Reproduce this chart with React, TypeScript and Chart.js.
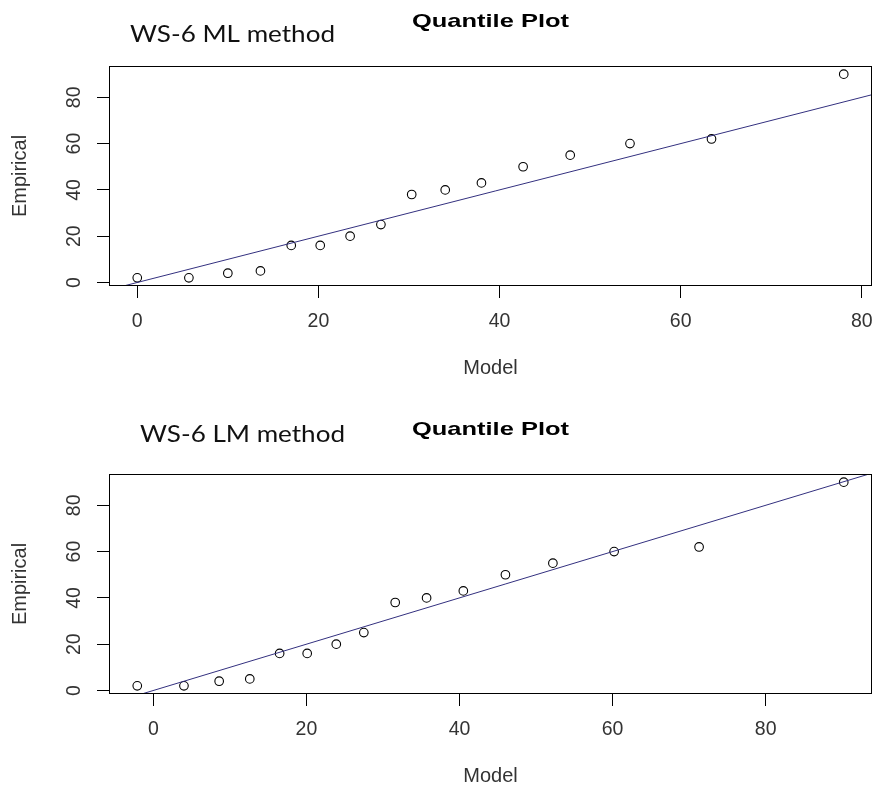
import React, { useEffect, useRef } from "react";
import { Chart, registerables } from "chart.js";

Chart.register(...registerables);

// ---------- data ----------
const EMPIRICAL = [2, 2, 4, 5, 16, 16, 20, 25, 38, 40, 43, 50, 55, 60, 62, 90];
const ML_MODEL = [0, 5.7, 10.0, 13.6, 17.0, 20.2, 23.5, 26.9, 30.3, 34.0, 38.0, 42.6, 47.8, 54.4, 63.4, 78.0];
const LM_MODEL = [-2.1, 4.0, 8.6, 12.6, 16.5, 20.1, 23.9, 27.5, 31.6, 35.7, 40.5, 46.0, 52.2, 60.2, 71.3, 90.2];
const X_TICKS = [0, 20, 40, 60, 80];
const Y_TICKS = [0, 20, 40, 60, 80];
const LINE_INTERCEPT = 0;
const LINE_SLOPE = 1;
const TITLE = "Quantile Plot";
const X_LABEL = "Model";
const Y_LABEL = "Empirical";
const ML_LABEL = "WS-6 ML method";
const LM_LABEL = "WS-6 LM method";

// R-style axis range: data range extended by 4% on each side
function rRange(values: number[]): [number, number] {
  const mn = Math.min(...values);
  const mx = Math.max(...values);
  const d = (mx - mn) * 0.04;
  return [mn - d, mx + d];
}

const W = 879;
const H = 395;
const RFONT = "'Liberation Sans', Arial, sans-serif";

function drawStretched(
  ctx: CanvasRenderingContext2D,
  text: string,
  font: string,
  cx: number,
  baseline: number,
  targetWidth: number,
  color: string
) {
  ctx.save();
  ctx.font = font;
  const w = ctx.measureText(text).width;
  const s = targetWidth / w;
  ctx.translate(cx, baseline);
  ctx.scale(s, 1);
  ctx.fillStyle = color;
  ctx.textAlign = "center";
  ctx.textBaseline = "alphabetic";
  ctx.fillText(text, 0, 0);
  ctx.restore();
}

type PanelProps = {
  model: number[];
  label: string;
  top: number;
  labelX: number;
  labelBaseline: number;
  titleBaseline: number;
};

function QuantilePanel({ model, label, top, labelX, labelBaseline, titleBaseline }: PanelProps) {
  const ref = useRef<HTMLCanvasElement | null>(null);

  useEffect(() => {
    if (!ref.current) return;
    const [xmin, xmax] = rRange(model);
    const [ymin, ymax] = rRange(EMPIRICAL);
    const points = model.map((x, i) => ({ x, y: EMPIRICAL[i] }));
    const linePts = [xmin, xmax].map((x) => ({ x, y: LINE_INTERCEPT + LINE_SLOPE * x }));

    const overlay = {
      id: "overlay",
      afterDraw(chart: any) {
        const { ctx, chartArea: a } = chart;
        ctx.save();
        ctx.strokeStyle = "#000";
        ctx.lineWidth = 1;
        const l = Math.round(a.left) + 0.5;
        const t = Math.round(a.top) + 0.5;
        const r = Math.round(a.right) - 0.5;
        const b = Math.round(a.bottom) - 0.5;
        ctx.strokeRect(l, t, r - l, b - t);
        ctx.restore();
        drawStretched(ctx, TITLE, `bold 19px ${RFONT}`, (a.left + a.right) / 2, titleBaseline, 157, "#000");
        drawStretched(ctx, label, "23px Lato, 'Open Sans', sans-serif", labelX, labelBaseline, 205, "#111");
      },
    };

    const tickFont = { family: RFONT, size: 19.5 };
    const titleFont = { family: RFONT, size: 20 };

    const chart = new Chart(ref.current, {
      type: "scatter",
      data: {
        datasets: [
          {
            type: "line",
            data: linePts,
            borderColor: "#33307f",
            borderWidth: 1,
            pointRadius: 0,
            pointHoverRadius: 0,
            fill: false,
            tension: 0,
          } as any,
          {
            type: "scatter",
            data: points,
            pointRadius: 4.3,
            pointHoverRadius: 4.3,
            pointBorderColor: "#000",
            pointBackgroundColor: "rgba(0,0,0,0)",
            pointBorderWidth: 1.1,
          } as any,
        ],
      },
      options: {
        animation: false,
        responsive: false,
        events: [],
        layout: { padding: { top: 66, right: 7, left: 0, bottom: 0 } },
        plugins: {
          legend: { display: false },
          tooltip: { enabled: false },
          title: { display: false },
        },
        scales: {
          x: {
            type: "linear",
            min: xmin,
            max: xmax,
            afterBuildTicks: (s: any) => {
              s.ticks = X_TICKS.map((v) => ({ value: v }));
            },
            afterFit: (s: any) => {
              s.height = 109;
              s.paddingLeft = 0;
              s.paddingRight = 0;
            },
            grid: { display: true, drawOnChartArea: false, drawTicks: true, tickLength: 12, color: "#000", lineWidth: 1 },
            border: { display: false },
            ticks: { font: tickFont, color: "#333", padding: 12, minRotation: 0, maxRotation: 0, autoSkip: false },
            title: { display: true, text: X_LABEL, font: titleFont, color: "#333", padding: { top: 0, bottom: 15 } },
          },
          y: {
            type: "linear",
            min: ymin,
            max: ymax,
            afterBuildTicks: (s: any) => {
              s.ticks = Y_TICKS.map((v) => ({ value: v }));
            },
            afterFit: (s: any) => {
              s.width = 109;
              s.paddingTop = 0;
              s.paddingBottom = 0;
            },
            grid: { display: true, drawOnChartArea: false, drawTicks: true, tickLength: 12, color: "#000", lineWidth: 1 },
            border: { display: false },
            ticks: { font: tickFont, color: "#333", padding: 12, minRotation: 90, maxRotation: 90, crossAlign: "center", autoSkip: false },
            title: { display: true, text: Y_LABEL, font: titleFont, color: "#333", padding: { top: 8, bottom: 0 } },
          },
        },
      } as any,
      plugins: [overlay],
    });
    return () => chart.destroy();
  }, [model, label, labelX, labelBaseline, titleBaseline]);

  return (
    <canvas
      ref={ref}
      width={W}
      height={H}
      style={{ position: "absolute", left: 0, top, width: W, height: H, display: "block" }}
    />
  );
}

export default function App() {
  return (
    <div
      style={{
        position: "absolute",
        left: 0,
        top: 0,
        width: 879,
        height: 790,
        overflow: "hidden",
        background: "#fff",
      }}
    >
      <QuantilePanel model={ML_MODEL} label={ML_LABEL} top={0} labelX={232.5} labelBaseline={41.7} titleBaseline={27} />
      <QuantilePanel model={LM_MODEL} label={LM_LABEL} top={408} labelX={242.5} labelBaseline={33.5} titleBaseline={27} />
    </div>
  );
}
